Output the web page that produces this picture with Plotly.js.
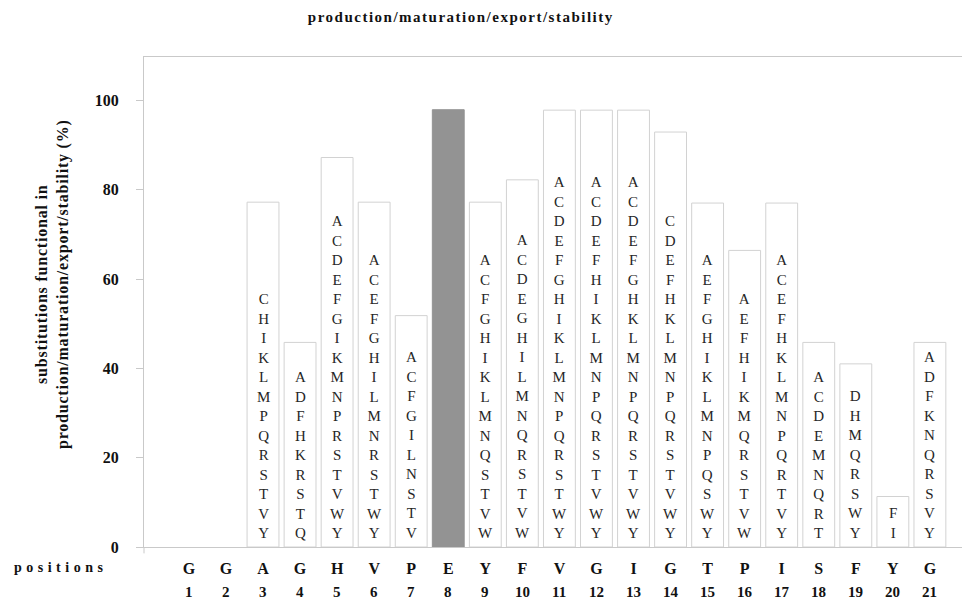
<!DOCTYPE html>
<html>
<head>
<meta charset="utf-8">
<script src="https://cdn.plot.ly/plotly-3.0.1.min.js"></script>
<style>
  html, body { margin: 0; padding: 0; background: #ffffff; }
  #chart { width: 962px; height: 602px; }
</style>
</head>
<body>
<div id="chart"></div>
<script>
// Sequence positions along the x axis
const positions = [1, 2, 3, 4, 5, 6, 7, 8, 9, 10, 11, 12, 13, 14, 15, 16, 17, 18, 19, 20, 21];

// Wild-type residue at each position
const residues = ['G', 'G', 'A', 'G', 'H', 'V', 'P', 'E', 'Y', 'F', 'V',
                  'G', 'I', 'G', 'T', 'P', 'I', 'S', 'F', 'Y', 'G'];

// Percentage of substitutions functional at each position (null = no bar)
const functionalPct = [null, null, 77.2, 45.8, 87.2, 77.2, 51.8, 97.9, 77.2, 82.2, 97.8,
                       97.8, 97.8, 92.9, 77.0, 66.4, 77.0, 45.8, 41.0, 11.3, 45.8];

// Functional substitutions listed inside each bar
const substitutions = [
  '', '',
  'CHIKLMPQRSTVY',
  'ADFHKRSTQ',
  'ACDEFGIKMNPRSTVWY',
  'ACEFGHILMNRSTWY',
  'ACFGILNSTV',
  '',
  'ACFGHIKLMNQSTVW',
  'ACDEGHILMNQRSTVW',
  'ACDEFGHIKLMNPQRSTWY',
  'ACDEFHIKLMNPQRSTVWY',
  'ACDEFGHKLMNPQRSTVWY',
  'CDEFHKLMNPQRSTVWY',
  'AEFGHIKLMNPQSWY',
  'AEFHIKMQRSTVW',
  'ACEFHKLMNPQRTVY',
  'ACDEMNQRT',
  'DHMQRSWY',
  'FI',
  'ADFKNQRSVY'
];

// Position drawn as a solid grey bar
const filledPositions = [8];

const serif = '"Liberation Serif", "Times New Roman", serif';
const axisGrey = '#c9c9c9';

const barFill = positions.map(p => filledPositions.includes(p) ? '#939393' : '#ffffff');
const barLine = positions.map(p => filledPositions.includes(p) ? '#939393' : '#d2d2d2');

const bars = {
  type: 'bar',
  x: positions,
  y: functionalPct,
  width: 0.86,
  marker: { color: barFill, line: { color: barLine, width: 1 } },
  hoverinfo: 'x+y',
  showlegend: false
};

const annotations = [];

// Letter stacks, bottom-aligned inside each bar
positions.forEach((p, i) => {
  if (!substitutions[i]) return;
  annotations.push({
    x: p, y: 0, xref: 'x', yref: 'y',
    text: substitutions[i].split('').join('<br>'),
    showarrow: false,
    xanchor: 'center', yanchor: 'bottom',
    yshift: 4,
    font: { family: serif, size: 15, color: '#262626' }
  });
});

// Second row of x labels: position numbers
positions.forEach(p => {
  annotations.push({
    x: p, y: 0, xref: 'x', yref: 'paper',
    text: String(p),
    showarrow: false,
    xanchor: 'center', yanchor: 'middle',
    yshift: -45,
    font: { family: serif, size: 15, color: '#111111', weight: 'bold' }
  });
});

// Row caption for the residue labels
annotations.push({
  x: -0.1614, y: 0, xref: 'paper', yref: 'paper',
  text: '<span style="letter-spacing:4.5px">positions</span>',
  showarrow: false,
  xanchor: 'left', yanchor: 'middle',
  yshift: -20,
  font: { family: serif, size: 14, color: '#111111', weight: 'bold' }
});

// Y axis caption
annotations.push({
  x: -0.111, y: 0.537, xref: 'paper', yref: 'paper',
  text: '<span style="letter-spacing:0.8px">substitutions functional in</span><br>' +
        '<span style="letter-spacing:0.8px">production/maturation/export/stability (%)</span>',
  showarrow: false,
  textangle: -90,
  xanchor: 'center', yanchor: 'middle',
  font: { family: serif, size: 16, color: '#111111', weight: 'bold' }
});

const layout = {
  width: 962,
  height: 602,
  margin: { l: 144, r: 0, t: 57, b: 55 },
  paper_bgcolor: '#ffffff',
  plot_bgcolor: '#ffffff',
  title: {
    text: '<span style="letter-spacing:1.5px">production/maturation/export/stability</span>',
    x: 0.479, xref: 'container', xanchor: 'center',
    y: 0.972, yref: 'container', yanchor: 'middle',
    font: { family: serif, size: 15, color: '#111111', weight: 'bold' }
  },
  xaxis: {
    range: [-0.212, 21.866],
    tickmode: 'array',
    tickvals: positions,
    ticktext: residues,
    ticks: '',
    showgrid: false,
    zeroline: false,
    showline: true,
    mirror: true,
    linecolor: axisGrey,
    linewidth: 1,
    ticklabelstandoff: 7,
    tickfont: { family: serif, size: 16, color: '#111111', weight: 'bold' }
  },
  yaxis: {
    range: [0, 109.7],
    tickmode: 'array',
    tickvals: [0, 20, 40, 60, 80, 100],
    ticks: 'outside',
    ticklen: 7,
    tickcolor: axisGrey,
    showgrid: false,
    zeroline: false,
    showline: true,
    linecolor: axisGrey,
    linewidth: 1,
    ticklabelstandoff: 14,
    tickfont: { family: serif, size: 16, color: '#111111', weight: 'bold' }
  },
  shapes: [{
    type: 'line', xref: 'paper', yref: 'paper',
    x0: 0, x1: 0, y0: 0, y1: -0.013,
    line: { color: axisGrey, width: 1 }
  }],
  annotations: annotations,
  bargap: 0.14
};

Plotly.newPlot('chart', [bars], layout, { displayModeBar: false, staticPlot: true });
</script>
</body>
</html>
